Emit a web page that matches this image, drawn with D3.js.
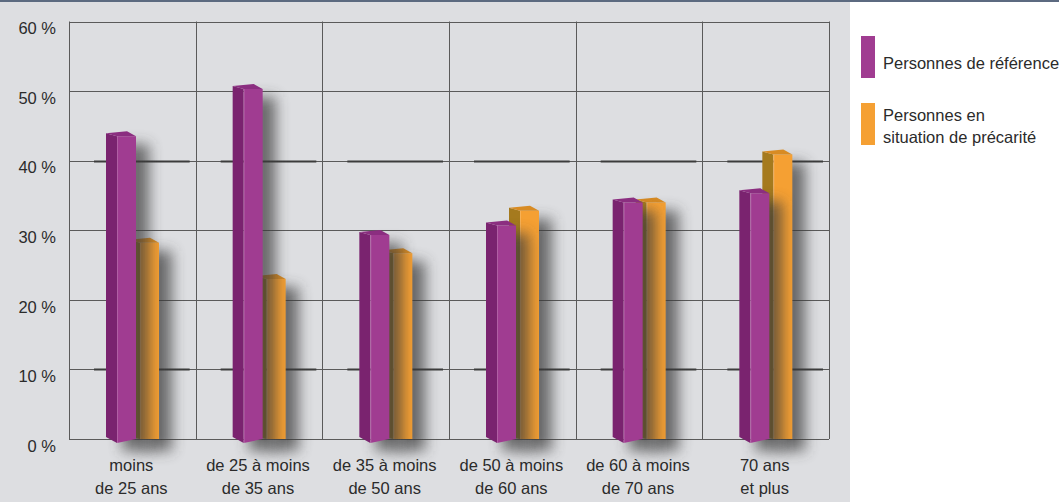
<!DOCTYPE html>
<html>
<head>
<meta charset="utf-8">
<script src="https://cdn.jsdelivr.net/npm/d3@7/dist/d3.min.js"></script>
<style>
  html, body { margin: 0; padding: 0; background: #ffffff; }
  svg { display: block; font-family: "Liberation Sans", Arial, sans-serif; }
</style>
</head>
<body>
<svg id="chart" width="1059" height="502"></svg>
<script>
// Age groups (two-line labels)
const categories = [
  ["moins", "de 25 ans"],
  ["de 25 à moins", "de 35 ans"],
  ["de 35 à moins", "de 50 ans"],
  ["de 50 à moins", "de 60 ans"],
  ["de 60 à moins", "de 70 ans"],
  ["70 ans", "et plus"]
];
// Share of each population by age group (%)
const reference = [43.5, 50.3, 29.3, 30.7, 34.0, 35.3];
const precarite = [28.2, 23.0, 26.7, 32.8, 34.0, 40.9];
const yTicks = [0, 10, 20, 30, 40, 50, 60];
const seriesNames = [["Personnes de référence"], ["Personnes en", "situation de précarité"]];

const W = 1059, H = 502;
const svg = d3.select("#chart");

const colors = {
  ref:  { front: "#a03c91", side: "#7a236f", top: "#8b2e80", swatch: "#a03c91" },
  prec: { front: "#f5a033", side: "#a57a1e", top: "#d88b23", swatch: "#f5a033" }
};

// Backgrounds
svg.append("rect").attr("x", 0).attr("y", 0).attr("width", W).attr("height", H).attr("fill", "#ffffff");
svg.append("rect").attr("x", 0).attr("y", 0).attr("width", 850).attr("height", H).attr("fill", "#dddee1");
svg.append("rect").attr("x", 0).attr("y", 0).attr("width", W).attr("height", 2).attr("fill", "#5c6a80");

const catIdx = categories.map((c, i) => i);
const x = d3.scaleBand().domain(catIdx).range([69, 829]).padding(0);
const y = d3.scaleLinear().domain([0, 60]).range([439, 21.5]);

const defs = svg.append("defs");
const blur = defs.append("filter").attr("id", "shadow")
  .attr("x", "-80%").attr("y", "-20%").attr("width", "260%").attr("height", "140%");
blur.append("feGaussianBlur").attr("stdDeviation", 7);

// Grid
const grid = svg.append("g");
grid.selectAll("line.h").data(yTicks).join("line")
  .attr("x1", 69).attr("x2", 829)
  .attr("y1", d => Math.round(y(d)) + 0.5).attr("y2", d => Math.round(y(d)) + 0.5)
  .attr("stroke", "#5a5a5a").attr("stroke-width", 1);
const bounds = catIdx.map(i => x(i)).concat([x.range()[1]]);
grid.selectAll("line.v").data(bounds).join("line")
  .attr("x1", d => Math.round(d) + 0.5).attr("x2", d => Math.round(d) + 0.5)
  .attr("y1", y(60)).attr("y2", y(0))
  .attr("stroke", "#5a5a5a").attr("stroke-width", 1);
// darker segments of the 10 % and 40 % lines inside each group
[10, 40].forEach(t => {
  grid.selectAll(null).data(catIdx).join("line")
    .attr("x1", i => x(i) + 25).attr("x2", i => x(i) + x.bandwidth() - 6)
    .attr("y1", Math.round(y(t)) + 0.5).attr("y2", Math.round(y(t)) + 0.5)
    .attr("stroke", "#3c3c3c").attr("stroke-width", 2);
});

// Y axis labels
const yAxis = d3.axisLeft(y).tickValues(yTicks).tickSize(0).tickPadding(0)
  .tickFormat(d => d + " %");
const gy = svg.append("g").attr("transform", "translate(56,7)").call(yAxis);
gy.select(".domain").remove();
gy.selectAll("text").attr("font-size", 16.5).attr("fill", "#2b2b2b")
  .attr("font-family", "'Liberation Sans', Arial, sans-serif");

// 3D bars
const FW = 19, DX = 11, DY = 4;
function drawBar(g, fx, value, c, slant) {
  const top = y(value), base = y(0);
  // shadow cast to the right
  g.append("rect")
    .attr("x", fx + 5).attr("y", top + 8)
    .attr("width", FW + 8).attr("height", base - top + 4)
    .attr("fill", "#3a3a3a").attr("opacity", 0.7)
    .attr("filter", "url(#shadow)");
  // side face
  g.append("polygon")
    .attr("points", [[fx - DX, top - DY + 1], [fx, top], [fx, base + slant], [fx - DX, base - 2]].join(" "))
    .attr("fill", c.side);
  // front face
  g.append("polygon")
    .attr("points", [[fx, top], [fx + FW, top], [fx + FW, base], [fx, base + slant]].join(" "))
    .attr("fill", c.front);
  // top face
  g.append("polygon")
    .attr("points", [[fx, top], [fx + FW, top], [fx + FW - DX + 2, top - DY - 1], [fx - DX, top - DY + 1]].join(" "))
    .attr("fill", c.top);
  g.append("line")
    .attr("x1", fx + 0.5).attr("x2", fx + 0.5).attr("y1", top).attr("y2", base + slant)
    .attr("stroke", "#ffffff").attr("stroke-opacity", 0.18);
}

const bars = svg.append("g");
catIdx.forEach(i => {
  const g = bars.append("g");
  drawBar(g, x(i) + 71, precarite[i], colors.prec, 0);
  drawBar(g, x(i) + 48, reference[i], colors.ref, 4);
});

// Category labels
const xl = svg.append("g");
catIdx.forEach(i => {
  const t = xl.append("text")
    .attr("x", x(i) + x.bandwidth() / 2 - 1)
    .attr("y", 471)
    .attr("text-anchor", "middle")
    .attr("font-size", 16.5).attr("fill", "#2b2b2b");
  categories[i].forEach((line, k) => {
    t.append("tspan").attr("x", x(i) + x.bandwidth() / 2 - 1).attr("dy", k === 0 ? 0 : 23).text(line);
  });
});

// Legend
const legend = svg.append("g");
const legendItems = [
  { c: colors.ref.swatch, y0: 36, h: 42, lines: seriesNames[0], ty: 69 },
  { c: colors.prec.swatch, y0: 103, h: 42, lines: seriesNames[1], ty: 121 }
];
legendItems.forEach(it => {
  legend.append("rect").attr("x", 861).attr("y", it.y0).attr("width", 14).attr("height", it.h).attr("fill", it.c);
  const t = legend.append("text").attr("x", 883).attr("y", it.ty)
    .attr("font-size", 16.5).attr("fill", "#2b2b2b");
  it.lines.forEach((line, k) => {
    t.append("tspan").attr("x", 883).attr("dy", k === 0 ? 0 : 22).text(line);
  });
});
</script>
</body>
</html>
